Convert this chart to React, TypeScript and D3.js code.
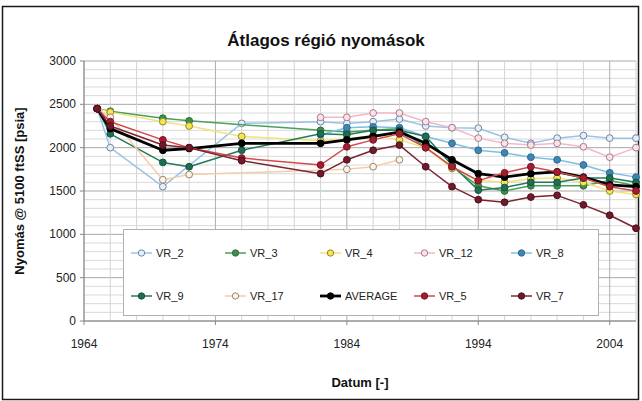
import React from "react";
import * as d3 from "d3";

const W = 642;
const H = 401;

const fullYears = [1965, 1966, 1970, 1972, 1976, 1982, 1984, 1986, 1988, 1990, 1992, 1994, 1996, 1998, 2000, 2002, 2004, 2006];
const lateYears = [1982, 1984, 1986, 1988, 1990, 1992, 1994, 1996, 1998, 2000, 2002, 2004, 2006];

const vr2Years = [1965, 1966, 1970, 1976, 1982, 1984, 1986, 1988, 1990, 1992, 1994, 1996, 1998, 2000, 2002, 2004, 2006];
const vr2Values = [2450, 2000, 1550, 2280, 2300, 2280, 2300, 2330, 2250, 2230, 2225, 2120, 2050, 2110, 2140, 2110, 2110];

const vr3Years = [1965, 1966, 1970, 1972, 1982, 1984, 1986, 1988, 1990, 1992, 1994, 1996, 1998, 2000, 2002, 2004, 2006];
const vr3Values = [2450, 2420, 2340, 2310, 2200, 2180, 2200, 2220, 2000, 1780, 1560, 1500, 1560, 1560, 1560, 1620, 1560];

const vr4Values = [2450, 2410, 2300, 2250, 2130, 2080, 2100, 2140, 2090, 2000, 1760, 1620, 1600, 1640, 1650, 1600, 1500, 1460];

const vr12Values = [2350, 2350, 2400, 2400, 2300, 2230, 2110, 2050, 2030, 2050, 2010, 1890, 2000];

const vr8Values = [2150, 2230, 2240, 2230, 2130, 2050, 1970, 1940, 1890, 1860, 1800, 1710, 1660];

const vr9Values = [2450, 2160, 1830, 1780, 1970, 2160, 2150, 2200, 2200, 2130, 1800, 1510, 1540, 1600, 1600, 1650, 1650, 1600];

const vr17Years = [1965, 1966, 1970, 1972, 1984, 1986, 1988];
const vr17Values = [2450, 2350, 1630, 1690, 1750, 1780, 1860];

const averageValues = [2450, 2220, 1970, 1990, 2050, 2050, 2090, 2130, 2180, 2050, 1860, 1700, 1660, 1700, 1720, 1660, 1570, 1550];

const vr5Values = [2450, 2300, 2090, 2000, 1880, 1800, 2010, 2090, 2160, 2000, 1780, 1620, 1710, 1780, 1720, 1650, 1550, 1500];

const vr7Values = [2450, 2250, 2030, 2000, 1850, 1700, 1860, 1970, 2030, 1780, 1550, 1400, 1370, 1430, 1450, 1340, 1220, 1070];

const xTicks = [1964, 1974, 1984, 1994, 2004];
const yTicks = [0, 500, 1000, 1500, 2000, 2500, 3000];

type Series = {
  name: string;
  years: number[];
  values: number[];
  line: string;
  fill: string;
  stroke: string;
  width: number;
};

const series: Series[] = [
  { name: "VR_2", years: vr2Years, values: vr2Values, line: "#9cc3e6", fill: "#e8eef5", stroke: "#6a88a8", width: 1.5 },
  { name: "VR_3", years: vr3Years, values: vr3Values, line: "#4aa05a", fill: "#3d8f4c", stroke: "#2f6e3a", width: 1.5 },
  { name: "VR_4", years: fullYears, values: vr4Values, line: "#f4e27a", fill: "#f5e650", stroke: "#8c8a30", width: 1.5 },
  { name: "VR_12", years: lateYears, values: vr12Values, line: "#f1b8c8", fill: "#f7e3ea", stroke: "#b07a8c", width: 1.5 },
  { name: "VR_8", years: lateYears, values: vr8Values, line: "#7cc0e4", fill: "#3f86b4", stroke: "#2d6a92", width: 1.5 },
  { name: "VR_9", years: fullYears, values: vr9Values, line: "#237a5a", fill: "#1f6e52", stroke: "#175440", width: 1.5 },
  { name: "VR_17", years: vr17Years, values: vr17Values, line: "#f6cda8", fill: "#fbf3ea", stroke: "#9c8468", width: 1.5 },
  { name: "AVERAGE", years: fullYears, values: averageValues, line: "#000000", fill: "#000000", stroke: "#000000", width: 2.8 },
  { name: "VR_5", years: fullYears, values: vr5Values, line: "#d24a4a", fill: "#a31c30", stroke: "#7a1424", width: 1.5 },
  { name: "VR_7", years: fullYears, values: vr7Values, line: "#7c2432", fill: "#6e1a2a", stroke: "#4e101c", width: 1.5 },
];

const FONT = "'Liberation Sans', Arial, sans-serif";

export default function App() {
  const left = 84;
  const right = 636;
  const top = 61;
  const bottom = 321;

  const x = d3.scaleLinear().domain([1964, 2006]).range([left, right]);
  const y = d3.scaleLinear().domain([0, 3000]).range([bottom, top]);

  const minorX = d3.range(1964, 2007, 2);
  const minorY = d3.range(0, 3001, 100);

  const lineGen = d3
    .line<[number, number]>()
    .x((d) => x(d[0]))
    .y((d) => y(d[1]));

  const legendCols = [158, 252, 347, 441, 538];
  const legendRows = [253, 296];

  return (
    <svg
      width={W}
      height={H}
      style={{ position: "absolute", left: 0, top: 0, background: "#fff" }}
      fontFamily={FONT}
    >
      <rect x={0} y={0} width={W} height={H} fill="#fff" />
      <rect x={2.5} y={6.5} width={636} height={393} fill="none" stroke="#1a1a1a" strokeWidth={1.5} />

      <text x={326} y={46} textAnchor="middle" fontSize={17} fontWeight="bold" fill="#111">
        Átlagos régió nyomások
      </text>

      {/* gridlines */}
      {minorY.map((v) => (
        <line
          key={"hy" + v}
          x1={left}
          x2={right}
          y1={y(v)}
          y2={y(v)}
          stroke={v % 500 === 0 ? "#a8a8a8" : "#d9d9d9"}
          strokeWidth={1}
        />
      ))}
      {minorX.map((v) => (
        <line
          key={"vx" + v}
          x1={x(v)}
          x2={x(v)}
          y1={top}
          y2={bottom}
          stroke={(v - 1964) % 10 === 0 ? "#b0b0b0" : "#d4d4d4"}
          strokeWidth={1}
        />
      ))}

      {/* axes */}
      <line x1={left} x2={left} y1={top} y2={bottom} stroke="#888" />
      <line x1={left} x2={right} y1={bottom} y2={bottom} stroke="#888" />
      {yTicks.map((v) => (
        <g key={"yt" + v}>
          <line x1={left - 4} x2={left} y1={y(v)} y2={y(v)} stroke="#888" />
          <text x={left - 8} y={y(v) + 4} textAnchor="end" fontSize={12} fill="#222">
            {v}
          </text>
        </g>
      ))}
      {xTicks.map((v) => (
        <g key={"xt" + v}>
          <line x1={x(v)} x2={x(v)} y1={bottom} y2={bottom + 4} stroke="#888" />
          <text x={x(v)} y={bottom + 27} textAnchor="middle" fontSize={12} fill="#222">
            {v}
          </text>
        </g>
      ))}

      <text x={360} y={387} textAnchor="middle" fontSize={13} fontWeight="bold" fill="#111">
        Datum [-]
      </text>
      <text
        transform={`translate(24, ${(top + bottom) / 2}) rotate(-90)`}
        textAnchor="middle"
        fontSize={13}
        fontWeight="bold"
        fill="#111"
      >
        Nyomás @ 5100 ftSS [psia]
      </text>

      {/* series */}
      {series.map((s) => {
        const pts = s.years.map((yr, i) => [yr, s.values[i]] as [number, number]);
        return (
          <g key={s.name}>
            <path d={lineGen(pts) || ""} fill="none" stroke={s.line} strokeWidth={s.width} strokeLinejoin="round" />
            {pts.map((p, i) => (
              <circle key={i} cx={x(p[0])} cy={y(p[1])} r={3.4} fill={s.fill} stroke={s.stroke} strokeWidth={1} />
            ))}
          </g>
        );
      })}

      {/* legend */}
      <rect x={123.5} y={229.5} width={475} height={86} fill="#fff" stroke="#b0b0b0" />
      {series.map((s, i) => {
        const col = legendCols[i % 5];
        const row = legendRows[Math.floor(i / 5)];
        return (
          <g key={"lg" + s.name}>
            <line x1={col - 27} x2={col - 6} y1={row} y2={row} stroke={s.line} strokeWidth={s.width} />
            <circle cx={col - 16.5} cy={row} r={3.2} fill={s.fill} stroke={s.stroke} strokeWidth={1} />
            <text x={col - 2} y={row + 4} fontSize={11} fill="#222">
              {s.name}
            </text>
          </g>
        );
      })}
    </svg>
  );
}
